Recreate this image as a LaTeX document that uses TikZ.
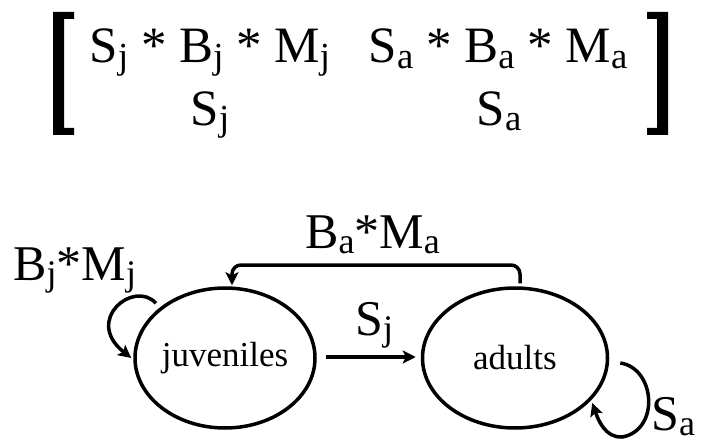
\documentclass[tikz,border=0pt]{standalone}
\usepackage{fontspec}
\setmainfont{Liberation Serif}
\usetikzlibrary{arrows.meta,shapes.geometric,calc}
\newcommand{\lsub}[1]{\raisebox{-0.1em}{\scalebox{0.72}{#1}}}
\tikzset{
  big/.style={font=\fontsize{51}{60}\selectfont, inner sep=0pt, anchor=base},
  lab/.style={font=\fontsize{50}{58}\selectfont, inner sep=0pt, anchor=base west},
  state/.style={draw, ellipse, line width=3.5pt, font=\fontsize{35}{40}\selectfont, inner sep=0pt},
  arr/.style={line width=3.5pt, -{Stealth[length=13pt,width=13pt,inset=3pt]}},
  brk/.style={fill=black}
}
\begin{document}
\begin{tikzpicture}[x=1pt,y=-1pt]
\useasboundingbox (0,0) rectangle (701,441);
% matrix
\fill[brk] (53,12) -- (74,12) -- (74,19) -- (64,19) -- (64,128) -- (74,128) -- (74,135) -- (53,135) -- cycle;
\fill[brk] (668,12) -- (647,12) -- (647,19) -- (657,19) -- (657,128) -- (647,128) -- (647,135) -- (668,135) -- cycle;
\node[big] (m11) at (210,63) {S\lsub{j} * B\lsub{j} * M\lsub{j}};
\node[big] (m12) at (498,63) {S\lsub{a} * B\lsub{a} * M\lsub{a}};
\node[big] (m21) at (210,125) {S\lsub{j}};
\node[big] (m22) at (499,125) {S\lsub{a}};
% graph
\node[state, minimum width=180pt, minimum height=140pt] (juv) at (225,358) {juveniles};
\node[state, minimum width=185pt, minimum height=140pt] (adu) at (515,358) {adults};
\coordinate (top) at (0,265);
\draw[arr] ($(juv.east)+(9,-1)$) -- ($(adu.west)+(-5,-1)$);
\draw[arr, rounded corners=9pt] ($(adu.north)+(5,-3)$) -- ($(adu.north |- top)+(5,0)$) -| ($(juv.north)+(7,-1)$);
\draw[arr] ($(juv.143)+(-3,-5)$) .. controls ($(juv.143)+(-25,-29)$) and ($(juv.west)+(-50,-38)$) .. ($(juv.west)+(-2,0)$);
\draw[arr] ($(adu.east)+(11,5)$) .. controls ($(adu.east)+(46,10)$) and ($(adu.east)+(51,72)$) .. ($(adu.east)+(13,79)$) .. controls ($(adu.east)+(-4,80)$) and ($(adu.east)+(-11,62)$) .. ($(adu.east)+(-17,45)$);
% labels
\node[lab] (lbm) at (13,280) {B\lsub{j}*M\lsub{j}};
\node[lab] (lam) at (305,248) {B\lsub{a}*M\lsub{a}};
\node[lab] (lsj) at (355,335) {S\lsub{j}};
\node[lab] (lsa) at (651,430) {S\lsub{a}};
\end{tikzpicture}
\end{document}
